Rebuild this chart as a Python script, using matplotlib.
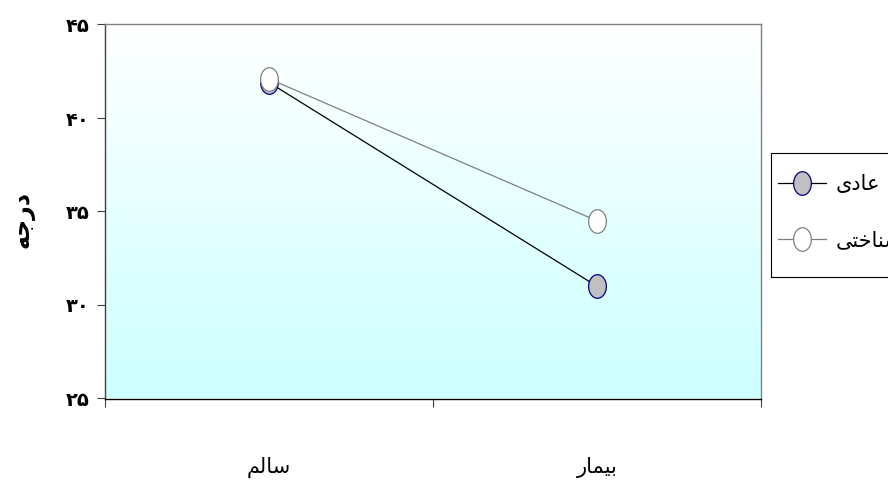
import numpy as np
import matplotlib
matplotlib.use('Agg')
import matplotlib.pyplot as plt
from matplotlib.path import Path
from matplotlib.patches import Rectangle
from matplotlib.colors import LinearSegmentedColormap

plt.rcParams['font.family'] = ['DejaVu Sans']

# Arabic text written in visual order with presentation forms (no shaping in matplotlib)
groups = ['\uFEE2\uFEDF\uFE8E\uFEB3', '\uFEAD\uFE8E\uFEE4\uFEF4\uFE91']   # سالم , بیمار
normal = [41.9, 31.0]        # عادی
cognitive = [42.1, 34.5]     # شناختی
series_names = ['\uFEEF\uFEA9\uFE8E\uFECB', '\uFEF0\uFE98\uFEA7\uFE8E\uFEE8\uFEB7']
ylabel = '\uFEEA\uFE9F\uFEAD\uFEA9'   # درجه
yticks = [25, 30, 35, 40, 45]

fa_digits = str.maketrans('0123456789', '\u06F0\u06F1\u06F2\u06F3\u06F4\u06F5\u06F6\u06F7\u06F8\u06F9')

# tall ellipse marker
t = np.linspace(0, 2 * np.pi, 60)
ellipse = Path(np.column_stack([0.75 * np.cos(t), np.sin(t)]), closed=True)

fig = plt.figure(figsize=(8.88, 4.86), dpi=100)
ax = fig.add_axes([105 / 888, 1 - 398.5 / 486, 656 / 888, 374 / 486])

# white-to-cyan gradient background
cmap = LinearSegmentedColormap.from_list('bg', ['#CCFFFF', '#FFFFFF'])
ax.imshow(np.linspace(0, 1, 256).reshape(-1, 1), cmap=cmap, aspect='auto',
          extent=[0, 1, 0, 1], transform=ax.transAxes, origin='lower', zorder=0)

x = np.arange(len(groups))
ax.plot(x, normal, color='black', lw=0.9, marker=ellipse, ms=17,
        mfc='#C0C0C0', mec='#000080', mew=0.9, label=series_names[0], zorder=3)
ax.plot(x, cognitive, color='#808080', lw=0.9, marker=ellipse, ms=17,
        mfc='white', mec='#808080', mew=0.9, label=series_names[1], zorder=4)

ax.set_xlim(-0.5, 1.5)
ax.set_ylim(25, 45)
ax.set_yticks(yticks)
ax.set_yticklabels([str(v).translate(fa_digits) for v in yticks],
                   fontsize=14, fontweight='bold')
ax.set_xticks([-0.5, 0.5, 1.5])
ax.set_xticklabels([])
ax.set_xticks(x, minor=True)
ax.set_xticklabels(groups, minor=True, fontsize=15)
ax.tick_params(axis='x', which='minor', length=0, pad=42)
ax.tick_params(axis='x', which='major', direction='out', length=6, color='#404040')
ax.tick_params(axis='y', direction='out', length=6, color='#404040', pad=5)

for side in ['top', 'right']:
    ax.spines[side].set_color('#808080')
ax.spines['left'].set_color('#404040')
ax.spines['bottom'].set_color('black')
for s in ax.spines.values():
    s.set_linewidth(1.0)

fig.text(22 / 888, 1 - 220 / 486, ylabel, rotation=90, fontsize=17,
         fontweight='bold', ha='center', va='center')

# legend box runs past the right edge of the figure
fig.patches.append(Rectangle((771 / 888, 1 - 277 / 486), 140 / 888, 124 / 486,
                             transform=fig.transFigure, fill=False,
                             edgecolor='black', lw=0.8, clip_on=False))
leg = fig.legend(loc='upper left', bbox_to_anchor=(778 / 888, 1 - 174 / 486),
                 fontsize=15, handlelength=2.3, labelspacing=1.75, borderpad=0,
                 borderaxespad=0, handletextpad=0.45, frameon=False)

fig.savefig('out.png', dpi=100)
